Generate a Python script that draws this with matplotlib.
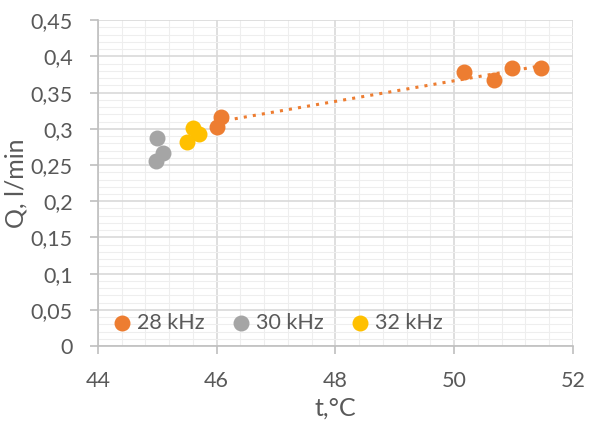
import numpy as np
import matplotlib.pyplot as plt
from matplotlib.ticker import MultipleLocator, FuncFormatter

# 28 kHz
t_28 = [46.0, 46.08, 50.17, 50.67, 50.97, 51.47]
q_28 = [0.303, 0.316, 0.378, 0.367, 0.384, 0.384]
# 30 kHz
t_30 = [45.0, 45.1, 44.98]
q_30 = [0.287, 0.266, 0.255]
# 32 kHz
t_32 = [45.6, 45.7, 45.5]
q_32 = [0.301, 0.293, 0.282]

plt.rcParams['font.family'] = ['Lato', 'DejaVu Sans']
txt = '#595959'

fig = plt.figure(figsize=(5.9, 4.21), dpi=100)
ax = fig.add_axes([0.166, 0.178, 0.805, 0.774])

# сетка
ax.xaxis.set_major_locator(MultipleLocator(2))
ax.xaxis.set_minor_locator(MultipleLocator(0.4))
ax.yaxis.set_major_locator(MultipleLocator(0.05))
ax.yaxis.set_minor_locator(MultipleLocator(0.01))
ax.grid(which='major', color='#D9D9D9', linewidth=1.2, zorder=0)
ax.grid(which='minor', color='#EEEEEE', linewidth=0.8, zorder=0)
ax.set_axisbelow(True)

ax.scatter(t_28, q_28, s=110, color='#ED7D31', label='28 kHz', zorder=3)
ax.scatter(t_30, q_30, s=110, color='#A5A5A5', label='30 kHz', zorder=3)
ax.scatter(t_32, q_32, s=110, color='#FFC000', label='32 kHz', zorder=3)

# линейный тренд для 28 kHz
k, b = np.polyfit(t_28, q_28, 1)
xt = np.array([min(t_28), max(t_28)])
ax.plot(xt, k * xt + b, color='#ED7D31', linestyle=(0, (1, 2)), linewidth=2.2, zorder=2)

ax.set_xlim(44, 52)
ax.set_ylim(0, 0.45)

fmt = FuncFormatter(lambda v, p: ('%g' % round(v, 3)).replace('.', ','))
ax.xaxis.set_major_formatter(fmt)
ax.yaxis.set_major_formatter(fmt)

for s in ['top', 'right']:
    ax.spines[s].set_visible(False)
for s in ['left', 'bottom']:
    ax.spines[s].set_color('#BFBFBF')
    ax.spines[s].set_linewidth(1.2)
ax.tick_params(which='major', direction='out', length=6, width=1.2, color='#BFBFBF',
               labelsize=15.5, labelcolor=txt)
ax.tick_params(axis='x', pad=12)
ax.tick_params(axis='y', pad=12)
ax.tick_params(which='minor', length=0)

ax.set_xlabel('t,°C', fontsize=18, color=txt, labelpad=4)
ax.set_ylabel('Q, l/min', fontsize=18, color=txt, labelpad=2)

ax.legend(loc='lower left', ncol=3, frameon=False,
          fontsize=15.5, labelcolor=txt, handletextpad=0.2, handlelength=1.0,
          columnspacing=1.2, markerscale=1.0, borderaxespad=0.3, borderpad=0.3)

fig.savefig('out.png', dpi=100)
